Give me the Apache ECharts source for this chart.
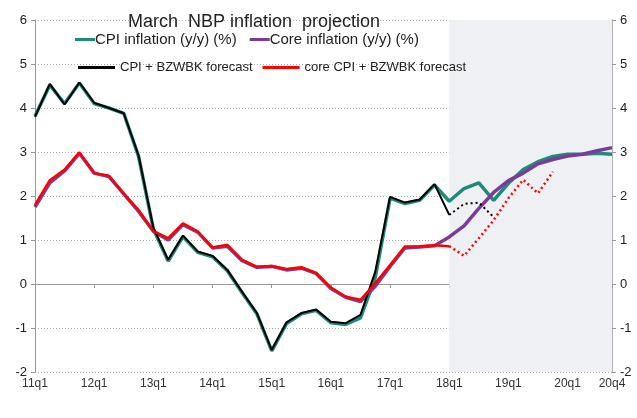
<!DOCTYPE html>
<html>
<head>
<meta charset="utf-8">
<script src="https://cdn.jsdelivr.net/npm/echarts@6/dist/echarts.min.js"></script>
<style>
  html, body { margin: 0; padding: 0; background: #fff; }
  #chart { width: 637px; height: 418px; }
</style>
</head>
<body>
<div id="chart"></div>
<script>
// quarters 11q1 .. 20q4
const quarters = [
  '11q1','11q2','11q3','11q4','12q1','12q2','12q3','12q4',
  '13q1','13q2','13q3','13q4','14q1','14q2','14q3','14q4',
  '15q1','15q2','15q3','15q4','16q1','16q2','16q3','16q4',
  '17q1','17q2','17q3','17q4','18q1','18q2','18q3','18q4',
  '19q1','19q2','19q3','19q4','20q1','20q2','20q3','20q4'
];

// NBP projection, CPI (y/y, %)
const cpiNbp = [
  3.82, 4.52, 4.10, 4.57, 4.10, 4.00, 3.88, 2.90,
  1.25, 0.52, 1.08, 0.72, 0.62, 0.30, -0.20, -0.68,
  -1.52, -0.90, -0.68, -0.60, -0.88, -0.92, -0.77, 0.15,
  1.95, 1.83, 1.90, 2.25, 1.88, 2.17, 2.30, 1.90,
  2.29, 2.60, 2.78, 2.90, 2.95, 2.95, 2.97, 2.95
];

// NBP projection, core inflation (y/y, %)
const coreNbp = [
  1.75, 2.30, 2.57, 2.97, 2.52, 2.44, 2.05, 1.65,
  1.20, 1.00, 1.35, 1.18, 0.82, 0.86, 0.53, 0.38,
  0.40, 0.32, 0.36, 0.24, -0.10, -0.30, -0.40, -0.05,
  0.40, 0.82, 0.84, 0.87, 1.07, 1.32, 1.72, 2.08,
  2.35, 2.52, 2.73, 2.83, 2.91, 2.95, 3.03, 3.10
];

// actual CPI up to 18q1, then BZWBK forecast to 18q4
const cpiActual = [
  3.80, 4.55, 4.08, 4.58, 4.12, 4.00, 3.88, 2.92,
  1.28, 0.55, 1.10, 0.74, 0.64, 0.32, -0.18, -0.66,
  -1.50, -0.87, -0.66, -0.58, -0.86, -0.89, -0.70, 0.28,
  1.98, 1.85, 1.92, 2.27, 1.57
];
const cpiForecast = [1.57, 1.82, 1.85, 1.52];

// actual core CPI up to 18q1, then BZWBK forecast to 19q4
const coreActual = [
  1.80, 2.36, 2.60, 2.99, 2.52, 2.46, 2.05, 1.68,
  1.20, 1.04, 1.38, 1.19, 0.83, 0.89, 0.55, 0.39,
  0.41, 0.34, 0.38, 0.25, -0.08, -0.29, -0.36, 0.02,
  0.43, 0.85, 0.86, 0.88, 0.86
];
const coreForecast = [0.86, 0.64, 1.04, 1.45, 1.95, 2.37, 2.06, 2.55];

const forecastStart = 28; // 18q1

// pad a partial series onto the full quarter axis
function place(values, start) {
  const out = quarters.map(() => null);
  values.forEach((v, i) => { out[start + i] = v; });
  return out;
}

const showLabel = (idx) => idx % 4 === 0 || idx === quarters.length - 1;

const chart = echarts.init(document.getElementById('chart'));

const font = 'Liberation Sans, Arial, sans-serif';

chart.setOption({
  animation: false,
  textStyle: { fontFamily: font },
  title: {
    text: 'March  NBP inflation  projection',
    left: 123,
    top: 8,
    textStyle: { fontSize: 18, fontWeight: 'normal', color: '#222', fontFamily: font }
  },
  legend: [
    {
      data: ['CPI inflation (y/y) (%)', 'Core inflation (y/y) (%)'],
      left: 70,
      top: 27,
      icon: 'rect',
      itemWidth: 20,
      itemHeight: 3,
      itemGap: 13,
      textStyle: { fontSize: 15, color: '#222', padding: [0, 0, 0, -5] }
    },
    {
      data: ['CPI + BZWBK forecast', 'core CPI + BZWBK forecast'],
      left: 73,
      top: 56,
      icon: 'rect',
      itemWidth: 37,
      itemHeight: 3,
      itemGap: 10,
      textStyle: { fontSize: 13, color: '#222' }
    }
  ],
  grid: { left: 35, right: 25, top: 20, bottom: 46 },
  xAxis: {
    type: 'category',
    data: quarters,
    boundaryGap: false,
    axisLine: { lineStyle: { color: '#999' } },
    axisTick: { interval: showLabel, length: 4, lineStyle: { color: '#999' } },
    axisLabel: { interval: showLabel, color: '#333', fontSize: 12, margin: 6 },
    splitLine: { show: false }
  },
  yAxis: [
    {
      type: 'value',
      min: -2, max: 6, interval: 1,
      axisLine: { show: true, lineStyle: { color: '#999' } },
      axisTick: { show: true, length: 4, lineStyle: { color: '#999' } },
      axisLabel: { color: '#222', fontSize: 13, margin: 8 },
      splitLine: { lineStyle: { color: '#aaa', type: [1, 2] } }
    },
    {
      type: 'value',
      position: 'right',
      min: -2, max: 6, interval: 1,
      axisLine: { show: true, lineStyle: { color: '#999', width: 1.5 } },
      axisTick: { show: true, length: 4, lineStyle: { color: '#999' } },
      axisLabel: { color: '#222', fontSize: 13, margin: 8 },
      splitLine: { show: false }
    }
  ],
  series: [
    {
      name: 'CPI inflation (y/y) (%)',
      type: 'line',
      data: cpiNbp,
      symbol: 'none',
      color: '#1f8a7c',
      lineStyle: { width: 3.5, color: '#1f8a7c' },
      z: 2,
      markArea: {
        silent: true,
        itemStyle: { color: '#eff0f3' },
        data: [[{ xAxis: quarters[forecastStart] }, { xAxis: quarters[quarters.length - 1] }]]
      }
    },
    {
      name: 'Core inflation (y/y) (%)',
      type: 'line',
      data: coreNbp,
      symbol: 'none',
      color: '#7b3b98',
      lineStyle: { width: 3.5, color: '#7b3b98' },
      z: 2
    },
    {
      name: 'CPI + BZWBK forecast',
      type: 'line',
      data: place(cpiActual, 0),
      symbol: 'none',
      color: '#000',
      lineStyle: { width: 2, color: '#000' },
      z: 3
    },
    {
      name: 'CPI forecast dotted',
      type: 'line',
      data: place(cpiForecast, forecastStart),
      symbol: 'none',
      lineStyle: { width: 2, color: '#000', type: [2, 3] },
      z: 3
    },
    {
      name: 'core CPI + BZWBK forecast',
      type: 'line',
      data: place(coreActual, 0),
      symbol: 'none',
      color: '#ff0000',
      lineStyle: { width: 2.5, color: '#ff0000' },
      z: 3
    },
    {
      name: 'core forecast dotted',
      type: 'line',
      data: place(coreForecast, forecastStart),
      symbol: 'none',
      lineStyle: { width: 2.5, color: '#ff0000', type: [2, 3] },
      z: 3
    }
  ]
});
</script>
</body>
</html>
